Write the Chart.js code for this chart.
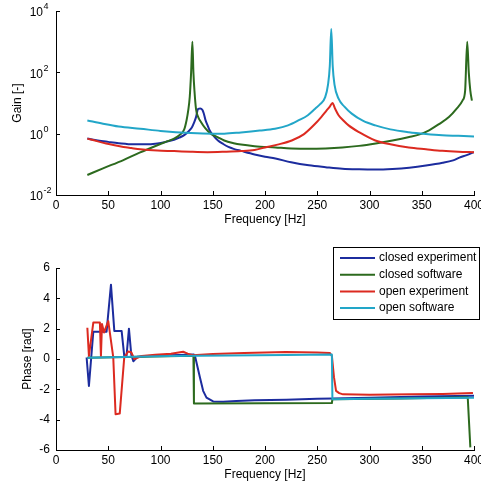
<!DOCTYPE html>
<html>
<head>
<meta charset="UTF-8">
<title>Gain and phase</title>
<style>
    body { margin: 0; background: #fff; }
    .plot { position: absolute; left: 0; width: 481px; }
    #top { top: 0; height: 232px; }
    #bottom { top: 240px; height: 246px; }
</style>
</head>
<body>
<div class="plot" id="top"><canvas id="gainChart"></canvas></div>
<div class="plot" id="bottom"><canvas id="phaseChart"></canvas></div>

<script src="https://cdn.jsdelivr.net/npm/chart.js"></script>
<script>
    // series
    const seriesNames = ['closed experiment', 'closed software', 'open experiment', 'open software'];
    const seriesColors = ['#1c2c9e', '#2c6a1e', '#dc2a20', '#22a6c8'];

    // gain [-] over frequency [Hz]
    const closedExpFreq = [30, 40, 50, 60, 74, 85, 97, 105, 113, 118, 123, 127, 130, 132, 134, 136, 138, 140, 141.5, 143, 145, 147, 150, 155, 160, 165, 170, 177, 190, 200, 210, 225, 242, 258, 274, 290, 306, 322, 338, 354, 370, 380, 386, 393, 400];
    const closedExpGain = [0.69, 0.6, 0.54, 0.49, 0.45, 0.45, 0.48, 0.54, 0.63, 0.74, 0.91, 1.2, 1.58, 2.24, 3.47, 6.46, 6.6, 6.0, 4.47, 2.82, 1.9, 1.29, 0.91, 0.6, 0.46, 0.37, 0.32, 0.275, 0.21, 0.178, 0.155, 0.117, 0.093, 0.081, 0.072, 0.069, 0.068, 0.071, 0.078, 0.091, 0.112, 0.135, 0.165, 0.2, 0.25];

    const closedSwFreq = [30, 45, 64.5, 80, 97, 105, 113, 118, 122.6, 125, 126.5, 128, 129.3, 130.5, 131.5, 132.5, 134, 136, 138.7, 143, 148, 155, 161, 170, 177, 190, 210, 225, 242, 258, 274, 290, 306, 322, 338, 348, 357, 366, 376, 383, 389, 391.5, 393.5, 395, 396.5, 398];
    const closedSwGain = [0.045, 0.074, 0.138, 0.24, 0.42, 0.54, 0.69, 0.89, 1.35, 2.8, 5.6, 16, 100, 1000, 100, 25, 6.3, 3.55, 2.4, 1.48, 1.0, 0.76, 0.6, 0.49, 0.44, 0.39, 0.355, 0.33, 0.32, 0.33, 0.355, 0.4, 0.48, 0.6, 0.78, 0.95, 1.29, 2.0, 3.47, 6.3, 12, 25, 1000, 100, 25, 12];

    const openExpFreq = [30, 40, 48, 56, 64.5, 72, 80.6, 97, 113, 129, 145, 161, 177, 190, 200, 212, 225.6, 237, 248, 254, 259, 262, 264.6, 267, 270.4, 275, 280, 290, 305.6, 320, 337.6, 354, 369.6, 385, 400];
    const openExpGain = [0.69, 0.56, 0.48, 0.42, 0.37, 0.34, 0.31, 0.28, 0.27, 0.257, 0.25, 0.257, 0.27, 0.295, 0.355, 0.44, 0.6, 0.95, 2.1, 3.55, 5.75, 7.6, 10, 6.6, 4.0, 2.7, 1.86, 1.12, 0.6, 0.45, 0.355, 0.31, 0.275, 0.257, 0.25];

    const openSwFreq = [30, 45, 60, 80.6, 100, 129, 150, 161, 177, 195, 209.6, 222, 232, 241, 248, 253, 257.6, 260.3, 262, 263.4, 264.8, 266.5, 270.4, 276, 283, 294, 305.6, 320, 337.6, 354, 369.6, 385, 400];
    const openSwGain = [2.7, 2.1, 1.7, 1.45, 1.23, 1.05, 1.0, 1.0, 1.1, 1.26, 1.45, 1.86, 2.7, 4.0, 6.5, 9.3, 15.5, 40, 160, 2600, 160, 40, 13.8, 7.6, 4.5, 2.6, 1.86, 1.38, 1.12, 0.98, 0.89, 0.85, 0.81];

    // phase [rad] over frequency [Hz]
    const closedExpPhaseFreq = [29.3, 31.5, 35.7, 48.4, 52.6, 55.8, 62.8, 65.3, 67.5, 69.8, 72, 74, 78, 90, 110, 125, 132, 133, 137.7, 140.8, 144, 150.4, 160, 172.7, 190, 220.5, 250, 265, 300, 350, 400];
    const closedExpPhase = [0.1, -1.78, 1.8, 1.8, 4.9, 1.85, 1.85, 0.2, 0.2, 2.0, 0.3, -0.15, 0.15, 0.2, 0.25, 0.28, 0.3, 0.2, -1.2, -2.1, -2.55, -2.8, -2.82, -2.77, -2.72, -2.68, -2.62, -2.6, -2.55, -2.48, -2.43];

    const closedSwPhaseFreq = [30, 131.5, 132, 200, 264, 264.5, 330, 394, 396.5];
    const closedSwPhase = [0.09, 0.22, -2.94, -2.92, -2.9, -2.66, -2.6, -2.52, -5.83];

    const openExpPhaseFreq = [30, 31.5, 35.7, 42, 43, 44, 46, 50, 54.8, 57, 61, 65.3, 69, 72, 74.9, 82, 95, 110, 121.7, 126, 131, 150, 180, 220, 250, 262, 264, 266, 268, 271, 274.7, 300, 341, 370, 399];
    const openExpPhase = [2.06, 0.2, 2.4, 2.4, 0.2, 2.3, 1.75, 2.5, 0.1, -3.64, -3.6, 0.1, 0.5, 0.45, 0, 0.2, 0.28, 0.35, 0.48, 0.35, 0.25, 0.33, 0.4, 0.46, 0.43, 0.4, 0.2, -1.2, -2.1, -2.25, -2.33, -2.35, -2.33, -2.3, -2.24];

    const openSwPhaseFreq = [30, 110, 220, 264, 264.5, 300, 350, 400];
    const openSwPhase = [0.09, 0.2, 0.26, 0.3, -2.65, -2.62, -2.58, -2.55];

    // ticks
    const gainTicks = [0.01, 1, 100, 10000];
    const gainTickExp = ['-2', '0', '2', '4'];

    const FONT = '"Liberation Sans", Arial, sans-serif';
    Chart.defaults.font.family = FONT;
    Chart.defaults.font.size = 12;
    Chart.defaults.color = '#000';

    function pts(xs, ys) {
        return xs.map((x, i) => ({ x: x, y: ys[i] }));
    }

    function lineSet(i, xs, ys, smooth) {
        return {
            label: seriesNames[i],
            data: pts(xs, ys),
            borderColor: seriesColors[i],
            borderWidth: 2,
            borderJoinStyle: 'round',
            pointRadius: 0,
            showLine: true,
            fill: false,
            cubicInterpolationMode: smooth ? 'monotone' : 'default',
            tension: smooth ? 0.4 : 0,
            order: 3 - i
        };
    }

    // inward tick marks on the left and bottom axes
    const innerTicks = {
        id: 'innerTicks',
        afterDraw(chart) {
            const { ctx, chartArea: a, scales: { x, y } } = chart;
            ctx.save();
            ctx.strokeStyle = '#000';
            ctx.lineWidth = 1;
            ctx.beginPath();
            x.ticks.forEach(t => {
                const px = Math.round(x.getPixelForValue(t.value)) + 0.5;
                ctx.moveTo(px, a.bottom);
                ctx.lineTo(px, a.bottom - 4);
            });
            y.ticks.forEach(t => {
                const py = Math.round(y.getPixelForValue(t.value)) + 0.5;
                ctx.moveTo(a.left, py);
                ctx.lineTo(a.left + 4, py);
            });
            ctx.stroke();
            ctx.restore();
        }
    };

    // 10^n labels for the log axis
    const gainLabels = {
        id: 'gainLabels',
        afterDraw(chart) {
            const { ctx, scales: { y } } = chart;
            ctx.save();
            ctx.fillStyle = '#000';
            ctx.textBaseline = 'middle';
            gainTicks.forEach((v, i) => {
                const py = y.getPixelForValue(v);
                ctx.font = '12px ' + FONT;
                ctx.textAlign = 'right';
                ctx.fillText('10', 43, py + 2);
                ctx.font = '9px ' + FONT;
                ctx.textAlign = 'left';
                ctx.fillText(gainTickExp[i], 43.5, py - 4);
            });
            ctx.restore();
        }
    };

    // boxed legend in the phase plot
    const legendBox = {
        id: 'legendBox',
        afterDraw(chart) {
            const ctx = chart.ctx;
            ctx.save();
            ctx.fillStyle = '#fff';
            ctx.fillRect(333.5, 7.5, 146, 72);
            ctx.strokeStyle = '#000';
            ctx.lineWidth = 1;
            ctx.strokeRect(333.5, 7.5, 146, 72);
            ctx.font = '12px ' + FONT;
            ctx.textBaseline = 'middle';
            ctx.textAlign = 'left';
            chart.data.datasets.forEach((ds, i) => {
                const ry = 18 + i * 16.7;
                ctx.strokeStyle = ds.borderColor;
                ctx.lineWidth = 2;
                ctx.beginPath();
                ctx.moveTo(340, ry);
                ctx.lineTo(375, ry);
                ctx.stroke();
                ctx.fillStyle = '#000';
                ctx.fillText(ds.label, 379, ry);
            });
            ctx.restore();
        }
    };

    function xAxis(height, titlePad) {
        return {
            type: 'linear',
            min: 0,
            max: 400,
            ticks: { stepSize: 50, padding: 3, maxRotation: 0 },
            grid: { drawOnChartArea: false, drawTicks: false },
            border: { color: '#000', width: 1 },
            title: { display: true, text: 'Frequency [Hz]', padding: { top: 0, bottom: titlePad } },
            afterFit(s) {
                s.height = height;
                s.paddingLeft = 0;
                s.paddingRight = 0;
            }
        };
    }

    function fitY(s) {
        s.width = 56;
        s.paddingTop = 0;
        s.paddingBottom = 0;
    }

    new Chart(document.getElementById('gainChart'), {
        type: 'scatter',
        data: {
            datasets: [
                lineSet(0, closedExpFreq, closedExpGain, true),
                lineSet(1, closedSwFreq, closedSwGain, true),
                lineSet(2, openExpFreq, openExpGain, true),
                lineSet(3, openSwFreq, openSwGain, true)
            ]
        },
        options: {
            responsive: true,
            maintainAspectRatio: false,
            animation: false,
            layout: { padding: { top: 11, right: 7, left: 0, bottom: 0 } },
            plugins: { legend: { display: false }, tooltip: { enabled: false } },
            scales: {
                x: xAxis(37, 5),
                y: {
                    type: 'logarithmic',
                    min: 0.01,
                    max: 10000,
                    afterBuildTicks(s) {
                        s.ticks = gainTicks.map(v => ({ value: v }));
                    },
                    ticks: { display: false },
                    grid: { drawOnChartArea: false, drawTicks: false },
                    border: { color: '#000', width: 1 },
                    title: { display: true, text: 'Gain [-]', padding: { top: 10, bottom: 0 } },
                    afterFit: fitY
                }
            }
        },
        plugins: [innerTicks, gainLabels]
    });

    new Chart(document.getElementById('phaseChart'), {
        type: 'scatter',
        data: {
            datasets: [
                lineSet(0, closedExpPhaseFreq, closedExpPhase, false),
                lineSet(1, closedSwPhaseFreq, closedSwPhase, false),
                lineSet(2, openExpPhaseFreq, openExpPhase, false),
                lineSet(3, openSwPhaseFreq, openSwPhase, false)
            ]
        },
        options: {
            responsive: true,
            maintainAspectRatio: false,
            animation: false,
            layout: { padding: { top: 28, right: 7, left: 0, bottom: 0 } },
            plugins: { legend: { display: false }, tooltip: { enabled: false } },
            scales: {
                x: xAxis(36, 4),
                y: {
                    type: 'linear',
                    min: -6,
                    max: 6,
                    ticks: { stepSize: 2, padding: 6 },
                    grid: { drawOnChartArea: false, drawTicks: false },
                    border: { color: '#000', width: 1 },
                    title: { display: true, text: 'Phase [rad]', padding: { top: 20, bottom: 0 } },
                    afterFit: fitY
                }
            }
        },
        plugins: [innerTicks, legendBox]
    });
</script>
</body>
</html>
